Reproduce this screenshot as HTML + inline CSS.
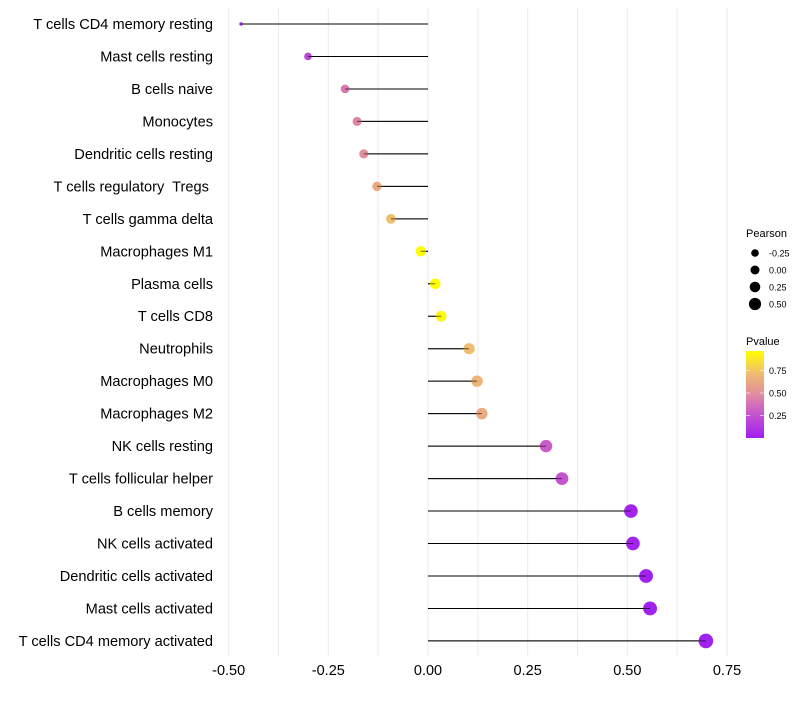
<!DOCTYPE html>
<html><head><meta charset="utf-8"><style>
body{margin:0;background:#fff;font-family:"Liberation Sans",sans-serif;}
text{white-space:pre;}
</style></head><body>
<svg id="c" width="800" height="700" xmlns="http://www.w3.org/2000/svg"></svg>
<script>
const categories=["T cells CD4 memory resting","Mast cells resting","B cells naive","Monocytes","Dendritic cells resting","T cells regulatory  Tregs\u00a0","T cells gamma delta","Macrophages M1","Plasma cells","T cells CD8","Neutrophils","Macrophages M0","Macrophages M2","NK cells resting","T cells follicular helper","B cells memory","NK cells activated","Dendritic cells activated","Mast cells activated","T cells CD4 memory activated"];
const pearson=[-0.469,-0.301,-0.208,-0.178,-0.161,-0.128,-0.093,-0.018,0.018,0.033,0.103,0.123,0.135,0.296,0.336,0.509,0.514,0.547,0.557,0.697];
const pvalues=[0.03,0.2,0.42,0.47,0.52,0.65,0.75,0.99,0.99,0.97,0.75,0.7,0.65,0.3,0.27,0.02,0.02,0.01,0.01,0.005];
const xTicks=[-0.5,-0.25,0,0.25,0.5,0.75];
const xTickLabels=["-0.50","-0.25","0.00","0.25","0.50","0.75"];
const sizeLegend=[-0.25,0,0.25,0.5];
const sizeLegendLabels=["-0.25","0.00","0.25","0.50"];
const colorTicks=[0.25,0.5,0.75];
const colorTickLabels=["0.25","0.50","0.75"];

const svg=document.getElementById('c');const NS="http://www.w3.org/2000/svg";
function mk(t,a,p){const e=document.createElementNS(NS,t);for(const k in a)e.setAttribute(k,a[k]);(p||svg).appendChild(e);return e;}
const x=v=>428+v*398.7;
const y=i=>24+i*32.47;
const pmin=Math.min(...pearson),pmax=Math.max(...pearson);
const r=v=>{const t=Math.min(Math.max((v-pmin)/(pmax-pmin),0),1);return 1.7+5.6*Math.sqrt(t);};
const stops=[[0,[160,32,240]],[0.25,[195,80,210]],[0.5,[225,140,160]],[0.75,[240,190,110]],[1,[255,255,0]]];
function col(p){for(let i=1;i<stops.length;i++){if(p<=stops[i][0]){const a=stops[i-1],b=stops[i],t=(p-a[0])/(b[0]-a[0]);return 'rgb('+a[1].map((c,j)=>Math.round(c+(b[1][j]-c)*t)).join(',')+')';}}return 'rgb(255,255,0)';}
for(let v=-0.5;v<=0.751;v+=0.125){const g=mk('line',{x1:x(v),x2:x(v),y1:8,y2:656,stroke:'#ebebeb','stroke-width':1});
}
xTicks.forEach((v,i)=>{const t=mk('text',{x:x(v),y:675,'text-anchor':'middle','font-size':14.5,fill:'#000'});t.textContent=xTickLabels[i];
});
categories.forEach((c,i)=>{
const t=mk('text',{x:213,y:y(i)+5,'text-anchor':'end','font-size':14.6,fill:'#000'});t.textContent=c;

const l=mk('line',{x1:x(0),x2:x(pearson[i]),y1:y(i),y2:y(i),stroke:'#000','stroke-width':1});

const d=mk('circle',{cx:x(pearson[i]),cy:y(i),r:r(pearson[i]),fill:col(pvalues[i])});

const l2=mk('line',{x1:x(0),x2:x(pearson[i]),y1:y(i),y2:y(i),stroke:'#000','stroke-width':1,opacity:0.6});

});
const st=mk('text',{x:746,y:237,'font-size':11,fill:'#000'});st.textContent='Pearson';

const lr=[3.8,4.5,5.3,6.1];
sizeLegend.forEach((v,i)=>{const cy=253+i*17;
const d=mk('circle',{cx:755,cy:cy,r:lr[i],fill:'#000'});
const t=mk('text',{x:769,y:cy+3.5,'font-size':9,fill:'#000'});t.textContent=sizeLegendLabels[i];
});
const ct=mk('text',{x:746,y:345,'font-size':11,fill:'#000'});ct.textContent='Pvalue';

const defs=mk('defs',{});const lg=mk('linearGradient',{id:'g',x1:0,y1:1,x2:0,y2:0},defs);
stops.forEach(s=>mk('stop',{offset:s[0],'stop-color':'rgb('+s[1].join(',')+')'},lg));
const cb=mk('rect',{x:746,y:351,width:18,height:87,fill:'url(#g)'});
const cy=p=>438-p*90;
colorTicks.forEach((v,i)=>{mk('line',{x1:746,x2:750,y1:cy(v),y2:cy(v),stroke:'#fff','stroke-opacity':0.6});mk('line',{x1:760,x2:764,y1:cy(v),y2:cy(v),stroke:'#fff','stroke-opacity':0.6});
const t=mk('text',{x:769,y:cy(v)+3.5,'font-size':9,fill:'#000'});t.textContent=colorTickLabels[i];
});
</script>
</body></html>
